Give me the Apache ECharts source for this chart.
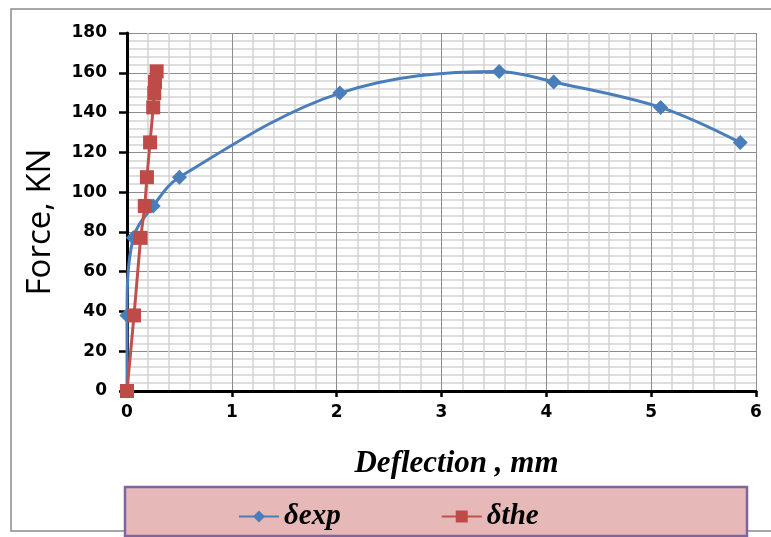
<!DOCTYPE html>
<html>
<head>
<meta charset="utf-8">
<script src="https://cdn.jsdelivr.net/npm/echarts@6/dist/echarts.min.js"></script>
<style>html,body{margin:0;padding:0;background:#fff}#c{width:771px;height:537px}</style>
</head>
<body>
<div id="c"></div>
<script>
const expDeflection = [0, 0, 0.06, 0.25, 0.5, 2.03, 3.55, 4.07, 5.09, 5.85];
const expForce      = [0, 38, 77, 93, 107.5, 149.8, 160.7, 155.4, 142.6, 124.9];
const theDeflection = [0, 0.067, 0.13, 0.17, 0.19, 0.22, 0.25, 0.26, 0.267, 0.283];
const theForce      = [0, 38, 77, 93, 107.5, 125, 142.6, 149.8, 155.4, 160.7];
const seriesNames = ['δexp', 'δthe'];
const xTitle = 'Deflection , mm';
const yTitle = 'Force, KN';

const chart = echarts.init(document.getElementById('c'));
const pair = (xs, ys) => xs.map((x, i) => [x, ys[i]]);
const tickFont = { fontFamily: 'DejaVu Sans', fontWeight: 'bold', fontSize: 17, color: '#000' };
chart.setOption({
  animation: false,
  backgroundColor: '#fff',
  graphic: [
    { type: 'rect', shape: { x: 11, y: 9, width: 780, height: 522 }, style: { fill: 'none', stroke: '#8a8a8a', lineWidth: 1.5 }, z: -1 },
    { type: 'rect', shape: { x: 125, y: 487, width: 622, height: 49 }, style: { fill: '#E6B9B8', stroke: '#8064A2', lineWidth: 2.5 }, z: -1 }
  ],
  grid: { left: 127, right: 15, top: 33, bottom: 146 },
  legend: {
    left: 233, top: 497, itemWidth: 40, itemHeight: 15, itemGap: 100,
    textStyle: { fontFamily: 'Liberation Serif', fontStyle: 'italic', fontWeight: 'bold', fontSize: 29, color: '#000' },
    data: seriesNames
  },
  xAxis: {
    type: 'value', min: 0, max: 6, interval: 1,
    name: xTitle, nameLocation: 'middle', nameGap: 57,
    nameTextStyle: { fontFamily: 'Liberation Serif', fontStyle: 'italic', fontWeight: 'bold', fontSize: 31, color: '#000', padding: [0, 0, 0, 30] },
    axisLine: { onZero: false, lineStyle: { color: '#000', width: 3 } },
    axisTick: { show: true, length: 6, lineStyle: { color: '#000', width: 2.5 } },
    axisLabel: Object.assign({ margin: 13 }, tickFont),
    splitLine: { show: true, lineStyle: { color: '#8c8c8c', width: 1 } },
    minorTick: { show: false, splitNumber: 5 },
    minorSplitLine: { show: true, lineStyle: { color: '#d4d4d4', width: 1.5 } }
  },
  yAxis: {
    type: 'value', min: 0, max: 180, interval: 20,
    name: yTitle, nameLocation: 'middle', nameGap: 70,
    nameTextStyle: { fontFamily: 'Open Sans', fontSize: 33, color: '#000', padding: [0, 20, 0, 0] },
    axisLine: { show: true, onZero: false, lineStyle: { color: '#000', width: 3 } },
    axisTick: { show: true, length: 8, lineStyle: { color: '#000', width: 2.5 } },
    axisLabel: Object.assign({ margin: 20 }, tickFont),
    splitLine: { show: true, lineStyle: { color: '#8c8c8c', width: 1 } },
    minorTick: { show: false, splitNumber: 5 },
    minorSplitLine: { show: true, lineStyle: { color: '#d4d4d4', width: 1.5 } }
  },
  series: [
    {
      name: seriesNames[0], type: 'line', smooth: 0.35,
      data: pair(expDeflection, expForce),
      symbol: 'diamond', symbolSize: 15,
      lineStyle: { color: '#4A7EBB', width: 3 },
      itemStyle: { color: '#4A7EBB' }, z: 2
    },
    {
      name: seriesNames[1], type: 'line', smooth: false,
      data: pair(theDeflection, theForce),
      symbol: 'rect', symbolSize: 14,
      lineStyle: { color: '#C0504D', width: 3 },
      itemStyle: { color: '#BE4B48' }, z: 3
    }
  ]
});
</script>
</body>
</html>
